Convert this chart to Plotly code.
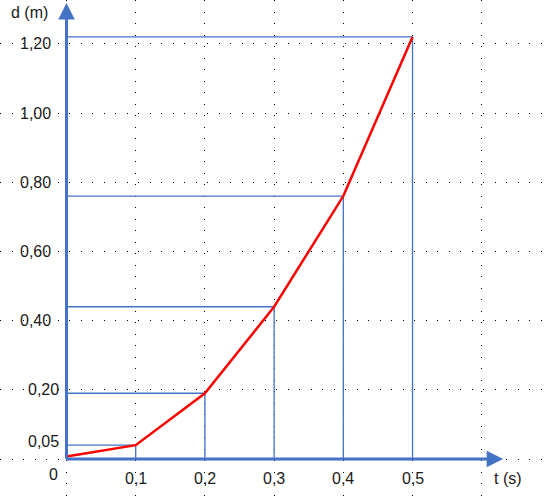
import plotly.graph_objects as go

# Data
t_values = [0.0, 0.1, 0.2, 0.3, 0.4, 0.5]
d_values = [0.007, 0.04, 0.19, 0.44, 0.76, 1.22]

y_tick_vals = [1.20, 1.00, 0.80, 0.60, 0.40, 0.20, 0.05]
y_tick_text = ["1,20", "1,00", "0,80", "0,60", "0,40", "0,20", "0,05"]
x_tick_vals = [0.1, 0.2, 0.3, 0.4, 0.5]
x_tick_text = ["0,1", "0,2", "0,3", "0,4", "0,5"]

BLUE = "#4472C4"
TXT = "#1a1a1a"
FONT = "Liberation Sans, Arial, sans-serif"

fig = go.Figure()

# guide lines from each measured point to both axes
for t, d in zip(t_values[1:], d_values[1:]):
    fig.add_trace(go.Scatter(
        x=[0, t, t], y=[d, d, 0], mode="lines",
        line=dict(color=BLUE, width=1.3), hoverinfo="skip", showlegend=False))

# red curve
fig.add_trace(go.Scatter(
    x=t_values, y=d_values, mode="lines",
    line=dict(color="#FF0000", width=2.5), showlegend=False))

# axes arrows
fig.add_annotation(x=0, y=1.318, ax=0, ay=-0.003, xref="x", yref="y",
                   axref="x", ayref="y", showarrow=True, arrowhead=2,
                   arrowsize=1.1, arrowwidth=3, arrowcolor=BLUE, text="")
fig.add_annotation(x=0.631, y=0, ax=-0.003, ay=0, xref="x", yref="y",
                   axref="x", ayref="y", showarrow=True, arrowhead=2,
                   arrowsize=1.1, arrowwidth=3, arrowcolor=BLUE, text="")

# y tick labels
y_shift = [-14, -14, -14, -14, -14, -6, -6]
for v, txt, s in zip(y_tick_vals, y_tick_text, y_shift):
    fig.add_annotation(x=0, y=v, xref="x", yref="y", text=txt,
                       showarrow=False, xanchor="right", yanchor="middle",
                       xshift=s, font=dict(family=FONT, size=16, color=TXT))
# x tick labels
for v, txt in zip(x_tick_vals, x_tick_text):
    fig.add_annotation(x=v, y=0, xref="x", yref="y", text=txt,
                       showarrow=False, xanchor="center", yanchor="middle",
                       yshift=-19, font=dict(family=FONT, size=16, color=TXT))
# origin and axis titles
fig.add_annotation(x=60/544, y=1-474/498, xref="paper", yref="paper", text="0",
                   showarrow=False, xanchor="right", yanchor="middle",
                   font=dict(family=FONT, size=16, color=TXT))
fig.add_annotation(x=9/544, y=1-13/498, xref="paper", yref="paper", text="d (m)",
                   showarrow=False, xanchor="left", yanchor="middle",
                   font=dict(family=FONT, size=16, color=TXT))
fig.add_annotation(x=492/544, y=1-478/498, xref="paper", yref="paper", text="t (s)",
                   showarrow=False, xanchor="left", yanchor="middle",
                   font=dict(family=FONT, size=16, color=TXT))

grid_style = dict(showgrid=True, gridcolor="#000000", gridwidth=1.3,
                  griddash="1.3px,10.2px", zeroline=False, showticklabels=False,
                  ticks="", showline=False)

fig.update_layout(
    width=544, height=498, autosize=False,
    margin=dict(l=0, r=0, t=0, b=0, pad=0),
    paper_bgcolor="white", plot_bgcolor="white",
    xaxis=dict(range=[-0.0961, 0.690], tick0=0, dtick=0.1, **grid_style),
    yaxis=dict(range=[-0.1127, 1.3266], tick0=0, dtick=0.2, **grid_style),
)

fig.write_html("out.html", config={"displayModeBar": False},
               post_script="document.body.style.margin='0';document.body.style.padding='0';")
